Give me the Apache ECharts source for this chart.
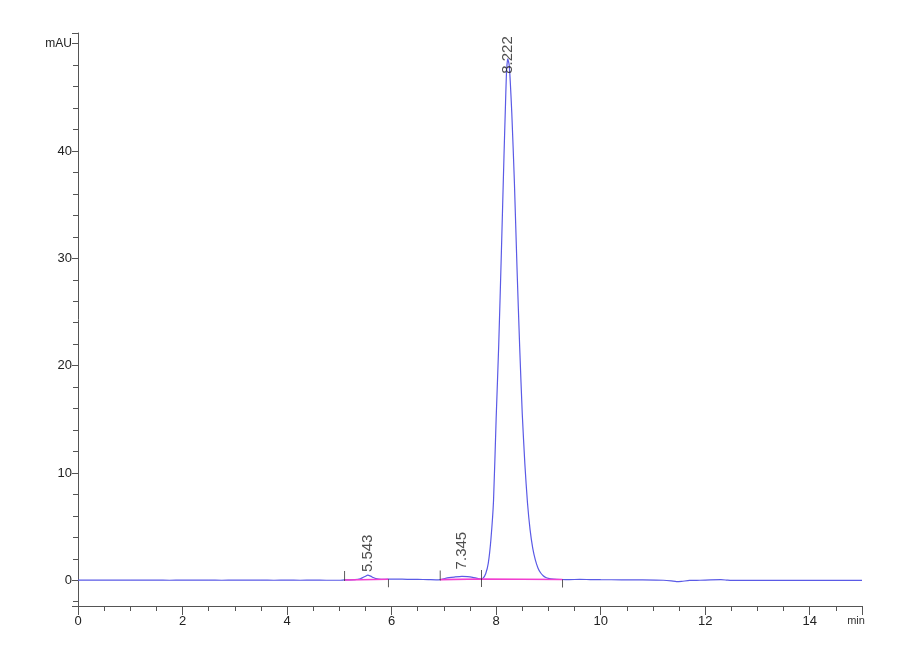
<!DOCTYPE html>
<html style="height: 100%">
<head>
  <meta charset="utf-8">
</head>
<body style="height: 100%; margin: 0; background: #fff">
  <div id="container" style="width: 900px; height: 660px"></div>

  <script type="text/javascript" src="https://cdn.jsdelivr.net/npm/echarts@6/dist/echarts.min.js"></script>
  <script type="text/javascript">
    // chromatogram trace (time in min, signal in mAU)
    var times = [
      0, 0.25, 0.5, 0.75, 1, 1.25, 1.5, 1.75, 2, 2.25, 2.5, 2.75, 3, 3.25, 3.5, 3.75,
      4, 4.25, 4.5, 4.75, 5, 5.1, 5.2, 5.3, 5.4, 5.45, 5.5, 5.543, 5.6, 5.65, 5.7, 5.8,
      5.95, 6.1, 6.3, 6.5, 6.7, 6.85, 6.93, 7.0, 7.1, 7.2, 7.345, 7.45, 7.55, 7.62, 7.7,
      7.75, 7.8, 7.85, 7.9, 7.95, 8.0, 8.05, 8.1, 8.15, 8.18, 8.2, 8.222, 8.25, 8.27,
      8.3, 8.35, 8.4, 8.45, 8.5, 8.55, 8.6, 8.65, 8.7, 8.75, 8.8, 8.85, 8.9, 8.95, 9.0,
      9.1, 9.25, 9.4, 9.6, 9.8, 10.0, 10.4, 10.8, 11.2, 11.35, 11.45, 11.55, 11.7, 11.9,
      12.1, 12.3, 12.4, 12.5, 12.7, 13.0, 13.5, 14.0, 14.5, 15.0
    ];
    var signal = [
      0.02, 0.02, 0.01, 0.02, 0.01, 0.01, 0.02, 0.0, 0.01, 0.02, 0.01, 0.0, 0.01, 0.02, 0.01, 0.0,
      0.01, 0.0, 0.01, 0.0, 0.0, 0.03, 0.04, 0.06, 0.14, 0.25, 0.38, 0.48, 0.38, 0.25, 0.15, 0.08,
      0.1, 0.1, 0.09, 0.08, 0.06, 0.04, 0.06, 0.14, 0.24, 0.3, 0.36, 0.33, 0.27, 0.2, 0.12,
      0.2, 0.6, 1.6, 3.8, 7.4, 15.0, 22.0, 30.5, 39.5, 44.5, 47.5, 48.6, 48.0, 46.5,
      43.5, 37.0, 29.0, 21.8, 15.5, 10.8, 7.2, 4.7, 3.0, 1.9, 1.15, 0.7, 0.42, 0.26, 0.17,
      0.1, 0.07, 0.06, 0.08, 0.06, 0.05, 0.04, 0.03, 0.0, -0.06, -0.13, -0.1, -0.02, 0.0,
      0.03, 0.05, 0.02, -0.02, -0.02, -0.02, -0.02, -0.02, -0.02, -0.02
    ];

    // integrated peaks
    var peakTimes = [5.543, 7.345, 8.222];
    var peakHeights = [0.48, 0.36, 48.6];

    // integration baselines: [start time, start value] -> [end time, end value]
    var baseStart = [[5.1, 0.03], [6.93, 0.06], [7.72, 0.12]];
    var baseEnd = [[5.94, 0.09], [7.72, 0.12], [9.27, 0.07]];

    var xTicks = [0, 2, 4, 6, 8, 10, 12, 14];
    var yTicks = [0, 10, 20, 30, 40];

    var dom = document.getElementById('container');
    var myChart = echarts.init(dom, null, { renderer: 'canvas' });

    var trace = times.map(function (t, i) { return [t, signal[i]]; });

    var baseLines = [];
    baseStart.forEach(function (s, i) {
      baseLines.push(s, baseEnd[i], ['-', '-']);
    });

    // little marks where the integration starts (above) / ends (below)
    var marks = [];
    baseStart.forEach(function (s) {
      marks.push({ value: s, symbolSize: [1, 10], symbolOffset: [0, -4] });
    });
    baseEnd.forEach(function (e) {
      marks.push({ value: e, symbolSize: [1, 8], symbolOffset: [0, 4] });
    });

    var labelDist = [3, 7, -15];
    var peakLabels = peakTimes.map(function (t, i) {
      return { value: [t, peakHeights[i]], label: { distance: labelDist[i] } };
    });

    var axisFont = { fontFamily: 'Liberation Sans, Arial, sans-serif', fontSize: 13, color: '#222' };

    var option = {
      animation: false,
      backgroundColor: '#fff',
      grid: { left: 78, right: 38, top: 33, bottom: 54 },
      xAxis: {
        type: 'value',
        min: 0,
        max: 15,
        interval: 2,
        axisLine: { onZero: false, lineStyle: { color: '#555', width: 1 } },
        axisTick: { length: 9, lineStyle: { color: '#555' } },
        minorTick: { show: true, splitNumber: 4, length: 5, lineStyle: { color: '#555' } },
        splitLine: { show: false },
        axisLabel: Object.assign({
          margin: 9,
          formatter: function (v) {
            if (v === 15) return '{u|min}';
            return xTicks.indexOf(v) >= 0 ? String(v) : '';
          },
          rich: { u: { fontSize: 11, color: '#333', fontFamily: 'Liberation Sans, Arial, sans-serif', padding: [0, 0, 0, -12] } }
        }, axisFont)
      },
      yAxis: {
        type: 'value',
        min: -2.4,
        max: 51,
        minInterval: 10,
        maxInterval: 10,
        axisLine: { show: true, onZero: false, lineStyle: { color: '#555', width: 1 } },
        axisTick: { show: true, length: 6, lineStyle: { color: '#555' } },
        minorTick: { show: true, splitNumber: 5, length: 5, lineStyle: { color: '#555' } },
        splitLine: { show: false },
        axisLabel: Object.assign({
          margin: 6,
          formatter: function (v) {
            if (v === 50) return '{u|mAU}';
            return yTicks.indexOf(v) >= 0 ? String(v) : '';
          },
          rich: { u: { fontSize: 12, color: '#222', fontFamily: 'Liberation Sans, Arial, sans-serif' } }
        }, axisFont)
      },
      series: [
        {
          name: 'signal',
          type: 'line',
          data: trace,
          showSymbol: false,
          smooth: 0.2,
          lineStyle: { color: '#5a5ae6', width: 1.2 },
          z: 2
        },
        {
          name: 'baseline',
          type: 'line',
          data: baseLines,
          showSymbol: false,
          connectNulls: false,
          lineStyle: { color: '#f23fd0', width: 1.6 },
          z: 3
        },
        {
          name: 'marks',
          type: 'scatter',
          data: marks,
          symbol: 'rect',
          itemStyle: { color: '#333' },
          z: 4
        },
        {
          name: 'peaks',
          type: 'scatter',
          data: peakLabels,
          symbolSize: 0,
          label: {
            show: true,
            position: 'top',
            rotate: 90,
            align: 'left',
            verticalAlign: 'middle',
            fontFamily: 'Liberation Sans, Arial, sans-serif',
            fontSize: 15,
            color: '#222',
            formatter: function (p) { return p.value[0].toFixed(3); }
          },
          z: 5
        }
      ]
    };

    myChart.setOption(option);
    window.addEventListener('resize', myChart.resize);
  </script>
</body>
</html>
